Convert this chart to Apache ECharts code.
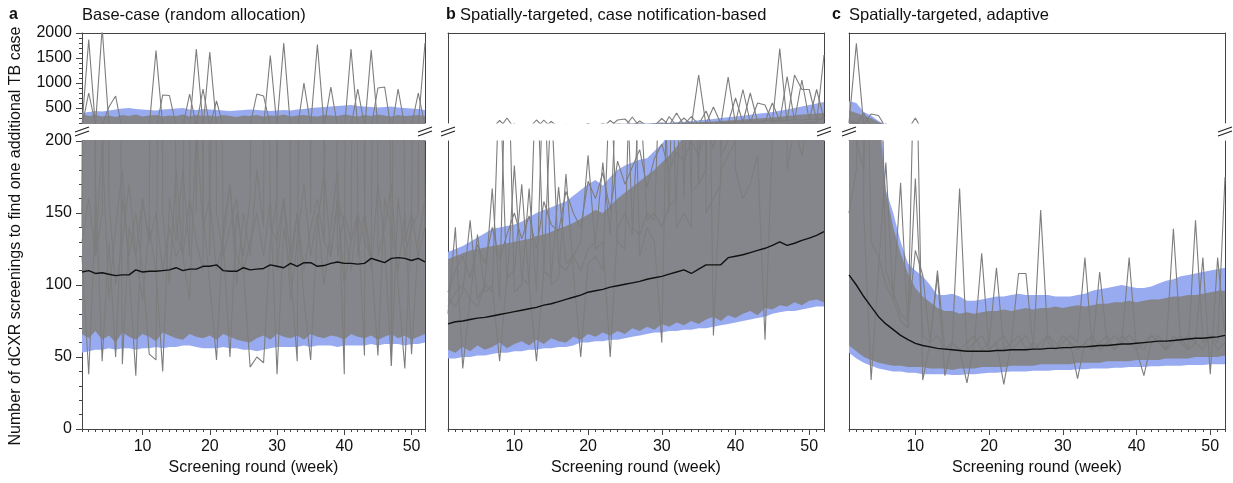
<!DOCTYPE html>
<html>
<head>
<meta charset="utf-8">
<script src="https://cdn.jsdelivr.net/npm/echarts@6/dist/echarts.min.js"></script>
<style>
  html, body { margin: 0; padding: 0; background: #fff; }
  #chart { width: 1233px; height: 483px; }
</style>
</head>
<body>
<div id="chart"></div>
<script>
// screening round (week)
const weeks = [1,2,3,4,5,6,7,8,9,10,11,12,13,14,15,16,17,18,19,20,21,22,23,24,25,26,
  27,28,29,30,31,32,33,34,35,36,37,38,39,40,41,42,43,44,45,46,47,48,49,50,51,52];
const xTicks = [10, 20, 30, 40, 50];
const yTicksHigh = [500, 1000, 1500, 2000];

// ---- a: base-case ----
const aMed = [109,110,108,108.5,107.5,106.5,107,107,110.5,109, 109.5,109.5,110,110.5,112,110,111,111,113,113,
  114,110,109.5,109.5,112,110.5,111,111.5,114,113, 112,115,113,115.5,115.5,113,113.5,115,116,115,
  115,114.5,115,118.5,117,115.5,118.5,119,118.5,117, 118.5,116];
const aBandLo = [53,54,55,55,56,55,56,56,55,56, 56,57,56,57,57,58,58,57,56,56, 56,57,56,56,55,55,54,55,56,57,
  57,57,57,58,57,58,58,58,57,58, 58,58,58,59,58,59,59,59,58,59, 59,60];
const aBandHi = [400,420,440,430,450,470,490,500,480,470, 460,450,470,480,490,500,470,460,480,470,
  460,450,440,450,460,470,460,450,440,450, 460,450,470,480,500,510,520,530,540,550,
  560,540,530,520,510,520,530,510,500,490, 480,460];
const aGreyLo = [66,63,68,62,65,60,67,64,62,66, 64,61,67,65,63,62,66,64,63,65, 62,66,64,62,61,60,63,65,62,66,
  64,63,65,62,66,64,63,65,64,62, 66,64,63,65,62,64,66,63,65,62, 64,66];
const aGreyHi = [380,340,360,330,350,320,360,340,370,330, 350,360,330,350,340,370,330,360,340,350,
  330,360,340,320,350,340,360,330,350,340, 370,330,350,360,340,330,360,350,340,370,
  350,330,360,340,370,350,330,360,340,350, 360,340];
const aRun1 = [150,1870,120,200,90,140,180,110,37,160, 130,1650,150,100,180,120,90,210,140,160,
  110,130,170,100,150,120,180,140,1550,110, 160,90,130,170,120,150,100,140,180,38,
  1680,120,150,110,170,130,44,160,120,140, 150,1800];
const aRun2 = [120,38,150,2100,160,100,130,170,120,90, 140,110,40,160,130,180,120,1680,150,100,
  48,140,170,120,110,43,50,46,130,160, 1800,110,150,90,48,140,180,120,160,100,
  130,150,51,1660,120,140,170,100,42,150, 120,140];
const aRun3 = [140,800,170,47,130,50,160,120,150,110, 52,48,760,750,140,120,160,130,110,1620,
  150,120,140,160,110,130,150,120,160,38, 140,110,47,1000,150,1770,130,120,160,140,
  110,150,130,120,51,160,140,110,150,52, 130,160];
const aRun4 = [130,160,120,150,520,740,45,140,120,160, 130,150,110,140,120,130,780,150,880,120,
  640,130,50,150,120,160,780,740,140,130, 160,120,150,110,140,160,130,920,120,150,
  130,880,150,120,900,920,44,880,130,150, 800,140];

// ---- b: spatially-targeted, case notification-based ----
const bMed = [73,74.5,75,76,77,77.5,78.5,79.5,80.5,81.5, 82.5,83.5,84.5,86,87,88.5,90,91.5,93,95,
  96,97,98.5,99.5,100.5,101.5,102.5,104,105,106, 107.5,109,110.5,108,111,114,114,114,119,120,
  121,122.5,124,125.5,127.5,130,127.5,129,131,132.5, 134.5,137];
const bBandLo = [49,49,50,50,51,51,52,53,53,54, 54,55,55,56,56,57,57,58,60,60, 61,61,62,62,63,64,65,66,67,67,
  68,68,69,69,70,70,71,72,73,74, 75,76,77,78,80,81,82,82,83,84, 85,85];
const bBandHi = [123,125,127,130,133,136,139,140,141,142, 144,147,150,152,154,156,158,162,166,170,
  173,169,175,180,183,185,187,188,193,198, 205,215,225,240,255,265,280,300,315,330,
  345,365,385,400,420,445,470,500,530,560, 590,620];
const bGreyLo = [55,53,57,54,58,55,57,60,56,59, 61,58,62,59,63,61,60,64,62,66, 64,67,65,68,66,70,68,71,69,73,
  71,74,72,75,73,76,78,75,79,77, 80,82,79,84,83,86,85,88,86,89, 90,88];
const bGreyHi = [118,120,122,124,125,126,127,128,129,130, 131,132,134,135,137,139,141,143,146,149,
  152,150,155,160,164,168,172,176,180,185, 190,196,203,210,215,220,230,240,250,260,
  270,280,290,300,310,325,340,355,370,380, 390,400];
const bRun1 = [80,140,42,90,85,100,167,90,300,95, 100,167,95,260,100,105,177,110,50,115,
  120,110,250,130,125,320,120,140,130,60, 330,140,150,140,1160,150,160,170,1120,180,
  160,170,190,62,200,1690,180,210,190,220, 200,1560];
const bRun2 = [90,85,95,145,90,100,95,250,100,183, 105,100,260,110,105,168,115,120,110,125,
  130,185,135,260,280,140,135,150,145,290, 150,400,160,330,170,180,520,190,200,700,
  210,800,220,230,600,240,1130,250,1060,260, 870,280];
const bRun3 = [85,95,100,90,135,95,100,47,105,110, 170,100,47,110,230,115,110,120,130,190,
  125,130,50,140,150,135,240,145,150,140, 155,160,300,165,170,440,65,180,190,200,
  870,210,600,560,220,230,240,1160,870,870, 260,300];
const bRun4 = [95,110,120,105,128,115,140,118,135,150, 132,148,125,158,142,137,165,150,140,172,
  160,178,152,186,170,182,194,168,188,198, 180,192,186,200,190,210,195,220,205,230,
  215,240,225,250,235,260,245,270,255,280, 265,290];

// ---- c: spatially-targeted, adaptive ----
const cMed = [107,100,92,85,78,73,69,65,62,59.5, 58,57,56,55.5,55,54.5,54,54,54,54,
  54.5,54.5,55,55,55,55.5,55.5,56,56,56.5, 56.5,57,57,57.5,58,58,58.5,59,59,59.5,
  60,60.5,61,61,61.5,62,62.5,63,63,63.5, 64,65];
const cBandLo = [53,49,46,44,42,41,40,40,39,39, 38,38,38,38,37.5,37.5,38,38,38.5,39,
  39,39.5,40,40,40,40.5,40.5,40.5,41,41, 41,41.5,41.5,42,42,42,42.5,42.5,43,43,
  43,43.5,43.5,44,44,44,44.5,44.5,44.5,45, 45,45];
const cBandHi = [640,600,420,350,240,166,150,130,115,110, 106,100,93,93,94,92,89,89,90,91,
  92,92,93,94,93,93,93,93,92,92, 92,93,94,96,97,98,99,100,99,98,
  98,99,101,103,104,106,107,108,109,110, 111,112];
const cGreyLo = [58,54,50,48,46,45,44,44,43,43, 43,42,42,42,41,42,42,42,43,43,
  43,43,44,44,44,44,45,45,45,45, 45,46,46,46,46,47,47,47,47,48,
  48,48,48,49,49,49,49,50,50,50, 50,51];
const cGreyHi = [450,400,350,300,220,165,140,122,108,98, 92,88,84,82,82,80,81,80,81,82,
  82,83,82,83,84,83,84,84,85,84, 85,86,85,86,87,87,88,88,89,88,
  89,90,90,91,92,92,93,93,94,95, 96,96];
const cRun1 = [200,1793,150,34,110,185,90,75,70,300, 34,60,65,55,60,167,55,60,65,55,
  60,31,60,108,108,55,60,65,55,60, 65,60,119,55,60,65,55,60,65,60,
  55,65,60,55,139,60,65,60,55,65, 60,175];
const cRun2 = [150,180,400,130,120,100,90,171,70,174, 65,60,110,55,60,55,32,60,122,55,
  60,65,55,60,65,55,152,60,55,65, 60,55,60,65,55,60,65,60,119,55,
  60,65,60,55,65,60,55,145,60,65, 55,60];
const cRun3 = [250,200,180,380,350,110,95,80,75,124, 107,60,107,37,60,55,60,65,55,60,
  112,55,60,65,55,60,55,65,60,55, 60,35,60,55,109,60,55,65,60,55,
  37,60,65,55,60,65,55,60,119,38, 119,65];

const panels = [
  { tag: 'a', title: 'Base-case (random allocation)', tagX: 9, titleX: 82, left: 82, width: 343,
    med: aMed, bandLo: aBandLo, bandHi: aBandHi, greyLo: aGreyLo, greyHi: aGreyHi,
    runs: [aRun1, aRun2, aRun3, aRun4], ticks: true },
  { tag: 'b', title: 'Spatially-targeted, case notification-based', tagX: 446, titleX: 460, left: 448, width: 376,
    med: bMed, bandLo: bBandLo, bandHi: bBandHi, greyLo: bGreyLo, greyHi: bGreyHi,
    runs: [bRun1, bRun2, bRun3, bRun4], ticks: false },
  { tag: 'c', title: 'Spatially-targeted, adaptive', tagX: 832, titleX: 849, left: 849, width: 376,
    med: cMed, bandLo: cBandLo, bandHi: cBandHi, greyLo: cGreyLo, greyHi: cGreyHi,
    runs: [cRun1, cRun2, cRun3], ticks: false }
];

const FONT = "'Liberation Sans', Arial, sans-serif";
const AXIS = '#444';
const BLUE = '#98abf0';
const GREY = '#848484';
const RUN = '#7d7d7d';

const diff = (hi, lo) => hi.map((v, i) => v - lo[i]);
const plain = v => String(v);

let grid = [], xAxis = [], yAxis = [], series = [], title = [], graphic = [];

panels.forEach((p, pi) => {
  title.push({ text: p.tag, left: p.tagX, top: 7, padding: 0,
    textStyle: { fontFamily: FONT, fontSize: 16, fontWeight: 'bold', color: '#111' } });
  title.push({ text: p.title, left: p.titleX, top: 7, padding: 0,
    textStyle: { fontFamily: FONT, fontSize: 16.5, fontWeight: 'normal', color: '#111' } });

  ['upper', 'lower'].forEach(part => {
    const gi = grid.length;
    const upper = part === 'upper';
    grid.push({ left: p.left, width: p.width, top: upper ? 33 : 141, height: upper ? 90 : 288,
      outerBoundsMode: 'none' });

    // hidden category axis that carries the weekly series
    const ci = xAxis.length;
    xAxis.push({ gridIndex: gi, type: 'category', data: weeks, boundaryGap: false, show: false });

    // visible frame / tick axes
    if (upper) {
      xAxis.push({ gridIndex: gi, type: 'value', min: 1, max: 52, position: 'top',
        axisLine: { show: true, lineStyle: { color: AXIS } },
        axisTick: { show: false }, axisLabel: { show: false }, splitLine: { show: false } });
    } else {
      xAxis.push({ gridIndex: gi, type: 'value', min: 1, max: 52, position: 'bottom',
        name: 'Screening round (week)', nameLocation: 'middle', nameGap: 31,
        nameTextStyle: { fontFamily: FONT, fontSize: 16, color: '#111' },
        axisLine: { show: true, onZero: false, lineStyle: { color: AXIS } },
        axisTick: { show: true, customValues: xTicks, length: 6, lineStyle: { color: AXIS } },
        axisLabel: { show: true, customValues: xTicks, margin: 10, formatter: plain,
          fontFamily: FONT, fontSize: 16, color: '#111' },
        splitLine: { show: false } });
      xAxis.push({ gridIndex: gi, type: 'value', min: 1, max: 52, interval: 1, position: 'bottom',
        axisLine: { show: false }, axisLabel: { show: false }, splitLine: { show: false },
        axisTick: { show: true, length: 3, lineStyle: { color: AXIS } } });
    }

    const yi = yAxis.length;
    if (upper) {
      yAxis.push({ gridIndex: gi, type: 'value', min: 200, max: 2000, position: 'left',
        axisLine: { show: true, lineStyle: { color: AXIS } },
        axisTick: { show: p.ticks, customValues: yTicksHigh, length: 6, lineStyle: { color: AXIS } },
        axisLabel: { show: p.ticks, customValues: yTicksHigh, margin: 10, formatter: plain,
          fontFamily: FONT, fontSize: 16, color: '#111' },
        splitLine: { show: false } });
      if (p.ticks) {
        yAxis.push({ gridIndex: gi, type: 'value', min: 200, max: 2000, interval: 100, position: 'left',
          axisLine: { show: false }, axisLabel: { show: false }, splitLine: { show: false },
          axisTick: { show: true, length: 3, lineStyle: { color: AXIS } } });
      }
    } else {
      yAxis.push({ gridIndex: gi, type: 'value', min: 0, max: 200, interval: 50, position: 'left',
        axisLine: { show: true, lineStyle: { color: AXIS } },
        axisTick: { show: p.ticks, length: 6, lineStyle: { color: AXIS } },
        minorTick: { show: p.ticks, splitNumber: 5, length: 3, lineStyle: { color: AXIS } },
        axisLabel: { show: p.ticks, margin: 10, formatter: plain,
          fontFamily: FONT, fontSize: 16, color: '#111' },
        splitLine: { show: false } });
    }
    yAxis.push({ gridIndex: gi, type: 'value', min: upper ? 200 : 0, max: upper ? 2000 : 200,
      position: 'right',
      axisLine: { show: true, lineStyle: { color: AXIS } },
      axisTick: { show: false }, axisLabel: { show: false }, splitLine: { show: false } });

    const base = { type: 'line', xAxisIndex: ci, yAxisIndex: yi, symbol: 'none', silent: true,
      clip: true, animation: false };
    const bandStack = 'band' + gi, greyStack = 'grey' + gi;

    series.push(Object.assign({}, base, { stack: bandStack, data: p.bandLo,
      lineStyle: { opacity: 0 } }));
    series.push(Object.assign({}, base, { stack: bandStack, data: diff(p.bandHi, p.bandLo),
      lineStyle: { opacity: 0 }, areaStyle: { color: BLUE, opacity: 1 } }));
    series.push(Object.assign({}, base, { stack: greyStack, data: p.greyLo,
      lineStyle: { opacity: 0 } }));
    series.push(Object.assign({}, base, { stack: greyStack, data: diff(p.greyHi, p.greyLo),
      lineStyle: { opacity: 0 }, areaStyle: { color: GREY, opacity: 0.94 } }));
    p.runs.forEach(r => {
      series.push(Object.assign({}, base, { data: r,
        lineStyle: { color: RUN, width: 1.1 } }));
    });
    series.push(Object.assign({}, base, { data: p.med,
      lineStyle: { color: '#111', width: 1.4 } }));
  });

  // axis break marks
  [p.left, p.left + p.width].forEach(x => {
    [-2, 2].forEach(dy => {
      graphic.push({ type: 'line', z: 100,
        shape: { x1: x - 7, y1: 134 + dy, x2: x + 7, y2: 129 + dy },
        style: { stroke: '#222', lineWidth: 1.3 } });
    });
  });
});

graphic.push({ type: 'text', x: 16, y: 236, rotation: Math.PI / 2,
  style: { text: 'Number of dCXR screenings to find one additional TB case',
    font: '16px ' + FONT, fill: '#111', textAlign: 'center', textVerticalAlign: 'middle' } });

const chart = echarts.init(document.getElementById('chart'), null, { renderer: 'canvas' });
chart.setOption({ animation: false, backgroundColor: '#fff', title, grid, xAxis, yAxis, series, graphic });
</script>
</body>
</html>
